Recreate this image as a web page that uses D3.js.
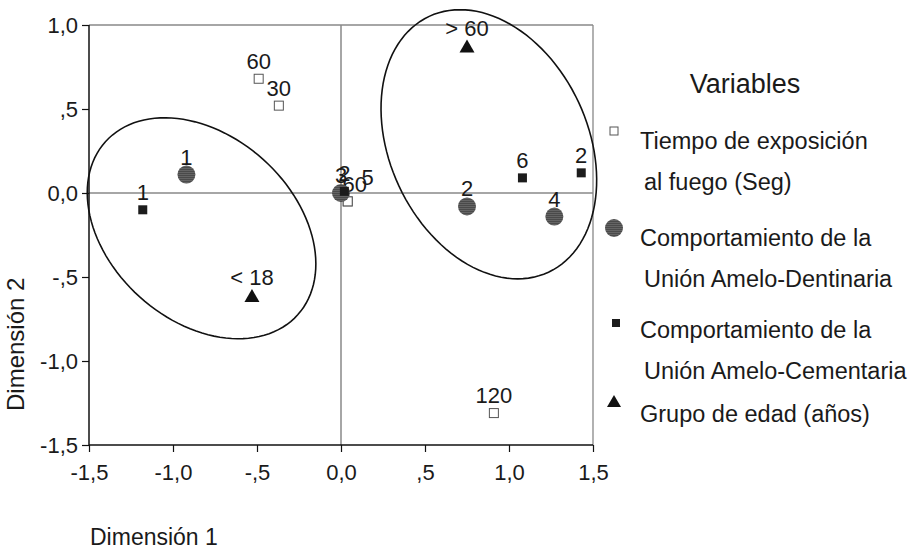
<!DOCTYPE html>
<html>
<head>
<meta charset="utf-8">
<script src="https://cdn.jsdelivr.net/npm/d3@7"></script>
<style>
  body { margin: 0; background: #fff; }
  svg { display: block; font-family: "Liberation Sans", Arial, sans-serif; }
</style>
</head>
<body>
<svg id="chart" width="910" height="550"></svg>
<script>
// axis ticks
var xTicks = [-1.5, -1, -0.5, 0, 0.5, 1, 1.5];
var xTickLabels = ["-1,5", "-1,0", "-,5", "0,0", ",5", "1,0", "1,5"];
var yTicks = [1, 0.5, 0, -0.5, -1, -1.5];
var yTickLabels = ["1,0", ",5", "0,0", "-,5", "-1,0", "-1,5"];

// Tiempo de exposición al fuego (open squares)
var tiempoX = [-0.49, -0.37, 0.04, 0.04, 0.91];
var tiempoY = [0.68, 0.52, -0.05, -0.05, -1.31];
var tiempoLabels = ["60", "30", "60", "5", "120"];

// Unión Amelo-Dentinaria (grey circles)
var dentX = [-0.92, 0.0, 0.75, 1.27];
var dentY = [0.11, 0.0, -0.08, -0.14];
var dentLabels = ["1", "3", "2", "4"];

// Unión Amelo-Cementaria (black squares)
var cemX = [-1.18, 0.02, 1.08, 1.43];
var cemY = [-0.10, 0.01, 0.09, 0.12];
var cemLabels = ["1", "2", "6", "2"];

// Grupo de edad (triangles)
var edadX = [0.75, -0.53];
var edadY = [0.875, -0.61];
var edadLabels = ["> 60", "< 18"];

// hand drawn group ellipses (data units, angle in degrees)
var ellCx = [-0.83, 0.88];
var ellCy = [-0.21, 0.29];
var ellA = [0.77, 0.84];
var ellB = [0.55, 0.59];
var ellAngle = [-42, -65];

var legendTitle = "Variables";
var legendLines = [
  ["Tiempo de exposición", "al fuego (Seg)"],
  ["Comportamiento de la", "Unión Amelo-Dentinaria"],
  ["Comportamiento de la", "Unión Amelo-Cementaria"],
  ["Grupo de edad (años)"]
];

var svg = d3.select("#chart");

var x = d3.scaleLinear().domain([-1.5, 1.5]).range([89, 593]);
var y = d3.scaleLinear().domain([-1.5, 1]).range([445, 25]);

// frame: top and right in grey
svg.append("line").attr("x1", x(-1.5)).attr("x2", x(1.5)).attr("y1", y(1)).attr("y2", y(1))
   .attr("stroke", "#888").attr("stroke-width", 1.3);
svg.append("line").attr("x1", x(1.5)).attr("x2", x(1.5)).attr("y1", y(1)).attr("y2", y(-1.5))
   .attr("stroke", "#888").attr("stroke-width", 1.3);

// zero lines
svg.append("line").attr("x1", x(0)).attr("x2", x(0)).attr("y1", y(1)).attr("y2", y(-1.5))
   .attr("stroke", "#888").attr("stroke-width", 1.5);
svg.append("line").attr("x1", x(-1.5)).attr("x2", x(1.5)).attr("y1", y(0)).attr("y2", y(0))
   .attr("stroke", "#888").attr("stroke-width", 1.5);

// axes
var xAxis = d3.axisBottom(x).tickValues(xTicks).tickSize(7).tickPadding(12)
  .tickFormat(function(d, i){ return xTickLabels[i]; });
var yAxis = d3.axisLeft(y).tickValues(yTicks).tickSize(7).tickPadding(4)
  .tickFormat(function(d, i){ return yTickLabels[i]; });

var gx = svg.append("g").attr("transform", "translate(0," + y(-1.5) + ")").call(xAxis);
var gy = svg.append("g").attr("transform", "translate(" + x(-1.5) + ",0)").call(yAxis);
[gx, gy].forEach(function(g){
  g.selectAll(".domain").attr("stroke", "#111").attr("stroke-width", 1.5);
  g.selectAll(".tick line").attr("stroke", "#111").attr("stroke-width", 1.2);
  g.selectAll("text").attr("font-size", "22px").attr("fill", "#1a1a1a")
   .attr("font-family", "Liberation Sans, Arial, sans-serif");
});
gx.select(".domain").attr("d", "M" + x(-1.5) + ",0H" + x(1.5));
gy.select(".domain").attr("d", "M0," + y(1) + "V" + y(-1.5));

// axis titles
svg.append("text").attr("x", 90).attr("y", 545).attr("font-size", "23px")
   .attr("fill", "#1a1a1a").text("Dimensión 1");
svg.append("text").attr("transform", "translate(24,411) rotate(-90)")
   .attr("font-size", "24px").attr("fill", "#1a1a1a").text("Dimensión 2");

// ellipses
var line = d3.line().x(function(d){ return x(d[0]); }).y(function(d){ return y(d[1]); })
  .curve(d3.curveLinearClosed);
ellCx.forEach(function(cx, i){
  var phi = ellAngle[i] * Math.PI / 180, pts = [];
  for (var k = 0; k < 120; k++) {
    var t = k / 120 * 2 * Math.PI;
    pts.push([
      cx + ellA[i] * Math.cos(t) * Math.cos(phi) - ellB[i] * Math.sin(t) * Math.sin(phi),
      ellCy[i] + ellA[i] * Math.cos(t) * Math.sin(phi) + ellB[i] * Math.sin(t) * Math.cos(phi)
    ]);
  }
  svg.append("path").attr("d", line(pts)).attr("fill", "none")
     .attr("stroke", "#111").attr("stroke-width", 1.6);
});

// pattern for the striped grey circles
var defs = svg.append("defs");
var pat = defs.append("pattern").attr("id", "stripes").attr("patternUnits", "userSpaceOnUse")
  .attr("width", 4).attr("height", 2);
pat.append("rect").attr("width", 4).attr("height", 2).attr("fill", "#4a4a4a");
pat.append("rect").attr("width", 4).attr("height", 0.8).attr("fill", "#6a6a6a");

// point labels (drawn before the markers, as in the original)
function zip(xs, ys, ls){ return xs.map(function(v, i){ return {x: v, y: ys[i], label: ls[i]}; }); }
var tiempo = zip(tiempoX, tiempoY, tiempoLabels);
var dent = zip(dentX, dentY, dentLabels);
var cem = zip(cemX, cemY, cemLabels);
var edad = zip(edadX, edadY, edadLabels);

// label nudges for the crowded centre
var nudge = { "tiempo-2": [7, 1], "tiempo-3": [20, -6] };

function addLabels(data, key){
  svg.append("g").selectAll("text").data(data).enter().append("text")
    .attr("x", function(d, i){ var n = nudge[key + "-" + i]; return x(d.x) + (n ? n[0] : 0); })
    .attr("y", function(d, i){ var n = nudge[key + "-" + i]; return y(d.y) - 10 + (n ? n[1] : 0); })
    .attr("text-anchor", "middle").attr("font-size", "22px").attr("fill", "#1a1a1a")
    .text(function(d){ return d.label; });
}
addLabels(tiempo, "tiempo");
addLabels(cem, "cem");
addLabels(dent, "dent");
addLabels(edad, "edad");

// markers
svg.append("g").selectAll("rect").data(tiempo).enter().append("rect")
  .attr("x", function(d){ return x(d.x) - 4.5; }).attr("y", function(d){ return y(d.y) - 4.5; })
  .attr("width", 9).attr("height", 9).attr("fill", "#fff").attr("stroke", "#555").attr("stroke-width", 1);

svg.append("g").selectAll("circle").data(dent).enter().append("circle")
  .attr("cx", function(d){ return x(d.x); }).attr("cy", function(d){ return y(d.y); })
  .attr("r", 9).attr("fill", "url(#stripes)");

svg.append("g").selectAll("rect").data(cem).enter().append("rect")
  .attr("x", function(d){ return x(d.x) - 4.5; }).attr("y", function(d){ return y(d.y) - 4.5; })
  .attr("width", 9).attr("height", 9).attr("fill", "#1c1c1c");

function tri(cx, cy, w, h){
  return "M" + (cx - w / 2) + "," + (cy + h / 2) + "L" + (cx + w / 2) + "," + (cy + h / 2) +
         "L" + cx + "," + (cy - h / 2) + "Z";
}
svg.append("g").selectAll("path").data(edad).enter().append("path")
  .attr("d", function(d){ return tri(x(d.x), y(d.y), 15, 13); }).attr("fill", "#111");

// legend
svg.append("text").attr("x", 745).attr("y", 93).attr("text-anchor", "middle")
   .attr("font-size", "27px").attr("fill", "#1a1a1a").text(legendTitle);

var legY = [149, 246, 338, 422];
var lg = svg.append("g");
legendLines.forEach(function(lines, i){
  lines.forEach(function(t, j){
    lg.append("text").attr("x", j === 0 ? 640 : 644).attr("y", legY[i] + j * 41)
      .attr("font-size", "23.5px").attr("fill", "#1a1a1a").text(t);
  });
});
lg.append("rect").attr("x", 610).attr("y", 127).attr("width", 8).attr("height", 8)
  .attr("fill", "#fff").attr("stroke", "#555");
lg.append("circle").attr("cx", 614).attr("cy", 228).attr("r", 9).attr("fill", "url(#stripes)");
lg.append("rect").attr("x", 612).attr("y", 319).attr("width", 8).attr("height", 8).attr("fill", "#1c1c1c");
lg.append("path").attr("d", tri(614, 401, 14, 12)).attr("fill", "#111");
</script>
</body>
</html>
